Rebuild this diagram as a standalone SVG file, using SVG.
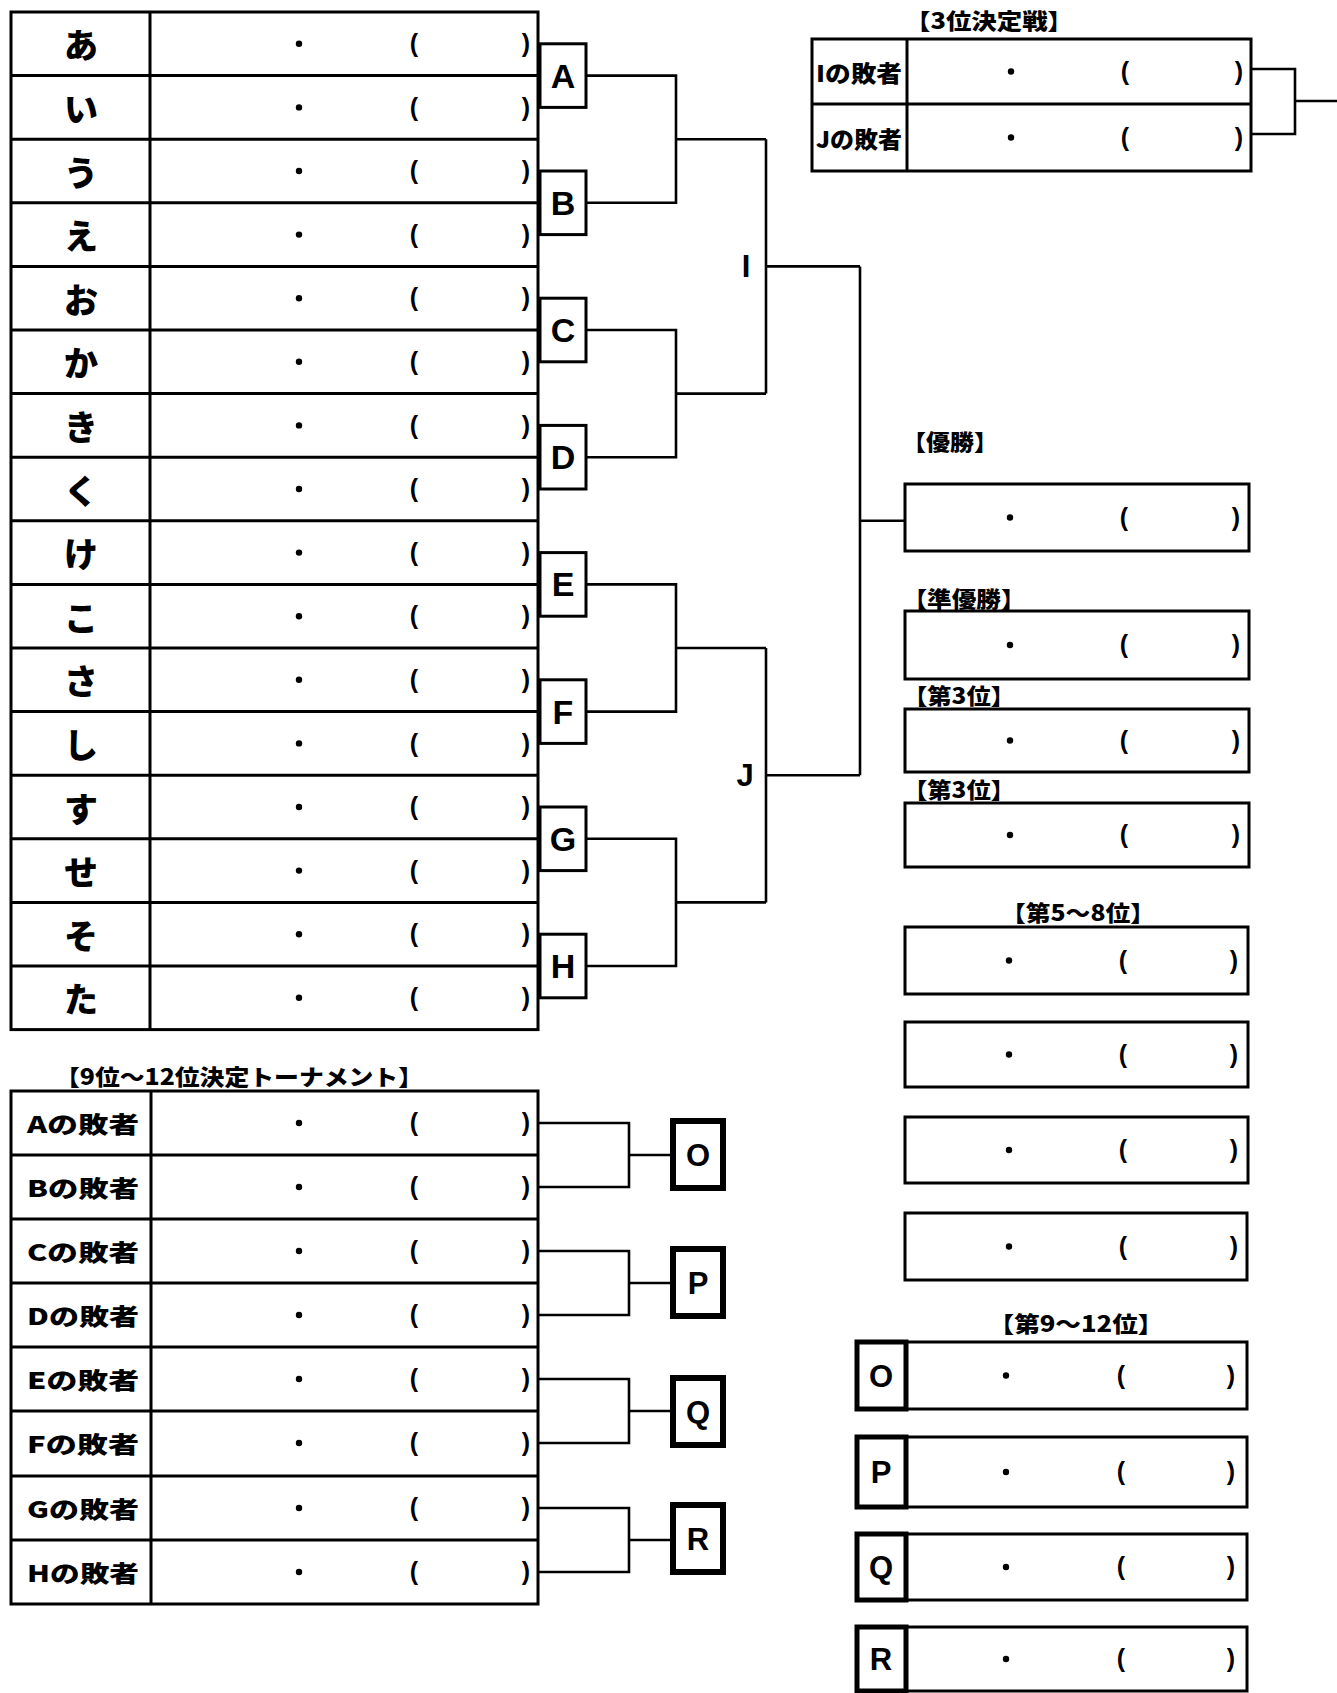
<svg xmlns="http://www.w3.org/2000/svg" width="1337" height="1693" viewBox="0 0 1337 1693">
<style>
.b{fill:#fff;stroke:#000;stroke-width:3}
.ln{stroke:#000;stroke-width:3;fill:none}
.cn{stroke:#000;stroke-width:2.6;fill:none}
.tk{fill:#fff;stroke:#000;stroke-width:6}
.tk2{fill:#fff;stroke:#000;stroke-width:5}
.h{font-family:"Noto Sans CJK JP","Noto Sans",sans-serif;font-weight:900;font-size:34px;text-anchor:middle;dominant-baseline:central}
.lb{font-family:"Noto Sans CJK JP","Noto Sans",sans-serif;font-weight:900;font-size:23px;text-anchor:middle;dominant-baseline:central}
.tt{font-family:"Noto Sans CJK JP","Noto Sans",sans-serif;font-weight:900;font-size:22px;text-anchor:middle}
.L{font-family:"Liberation Sans",Arial,sans-serif;font-weight:bold;font-size:34px;text-anchor:middle}
.L2{font-family:"Liberation Sans",Arial,sans-serif;font-weight:bold;font-size:31px;text-anchor:middle}
.p{font-family:"Liberation Sans",Arial,sans-serif;font-weight:bold;font-size:25px;text-anchor:middle}
</style>
<defs>
<g id="fill1"><circle cx="0" cy="0" r="3.2" fill="#000"/></g>
</defs>
<rect x="0" y="0" width="1337" height="1693" fill="#fff"/>

<!-- main table frame -->
<g id="main-table">
<rect class="b" x="11" y="12" width="527" height="1017.6"/>
<line class="ln" x1="150" y1="12" x2="150" y2="1029.6"/>
<path class="ln" d="M11 75.6H538M11 139.2H538M11 202.8H538M11 266.4H538M11 330H538M11 393.6H538M11 457.2H538M11 520.8H538M11 584.4H538M11 648H538M11 711.6H538M11 775.2H538M11 838.8H538M11 902.4H538M11 966H538"/>
</g>

<g id="row-a"><text class="h" x="81" y="43.8">あ</text><use href="#fill1" x="299" y="43.8"/><text class="p" x="414" y="52">(</text><text class="p" x="526" y="52">)</text></g>
<g id="row-i"><text class="h" x="81" y="107.4">い</text><use href="#fill1" x="299" y="107.4"/><text class="p" x="414" y="115.6">(</text><text class="p" x="526" y="115.6">)</text></g>
<g id="row-u"><text class="h" x="81" y="171">う</text><use href="#fill1" x="299" y="171"/><text class="p" x="414" y="179.2">(</text><text class="p" x="526" y="179.2">)</text></g>
<g id="row-e"><text class="h" x="81" y="234.6">え</text><use href="#fill1" x="299" y="234.6"/><text class="p" x="414" y="242.8">(</text><text class="p" x="526" y="242.8">)</text></g>
<g id="row-o"><text class="h" x="81" y="298.2">お</text><use href="#fill1" x="299" y="298.2"/><text class="p" x="414" y="306.4">(</text><text class="p" x="526" y="306.4">)</text></g>
<g id="row-ka"><text class="h" x="81" y="361.8">か</text><use href="#fill1" x="299" y="361.8"/><text class="p" x="414" y="370">(</text><text class="p" x="526" y="370">)</text></g>
<g id="row-ki"><text class="h" x="81" y="425.4">き</text><use href="#fill1" x="299" y="425.4"/><text class="p" x="414" y="433.6">(</text><text class="p" x="526" y="433.6">)</text></g>
<g id="row-ku"><text class="h" x="81" y="489">く</text><use href="#fill1" x="299" y="489"/><text class="p" x="414" y="497.2">(</text><text class="p" x="526" y="497.2">)</text></g>
<g id="row-ke"><text class="h" x="81" y="552.6">け</text><use href="#fill1" x="299" y="552.6"/><text class="p" x="414" y="560.8">(</text><text class="p" x="526" y="560.8">)</text></g>
<g id="row-ko"><text class="h" x="81" y="616.2">こ</text><use href="#fill1" x="299" y="616.2"/><text class="p" x="414" y="624.4">(</text><text class="p" x="526" y="624.4">)</text></g>
<g id="row-sa"><text class="h" x="81" y="679.8">さ</text><use href="#fill1" x="299" y="679.8"/><text class="p" x="414" y="688">(</text><text class="p" x="526" y="688">)</text></g>
<g id="row-shi"><text class="h" x="81" y="743.4">し</text><use href="#fill1" x="299" y="743.4"/><text class="p" x="414" y="751.6">(</text><text class="p" x="526" y="751.6">)</text></g>
<g id="row-su"><text class="h" x="81" y="807">す</text><use href="#fill1" x="299" y="807"/><text class="p" x="414" y="815.2">(</text><text class="p" x="526" y="815.2">)</text></g>
<g id="row-se"><text class="h" x="81" y="870.6">せ</text><use href="#fill1" x="299" y="870.6"/><text class="p" x="414" y="878.8">(</text><text class="p" x="526" y="878.8">)</text></g>
<g id="row-so"><text class="h" x="81" y="934.2">そ</text><use href="#fill1" x="299" y="934.2"/><text class="p" x="414" y="942.4">(</text><text class="p" x="526" y="942.4">)</text></g>
<g id="row-ta"><text class="h" x="81" y="997.8">た</text><use href="#fill1" x="299" y="997.8"/><text class="p" x="414" y="1006">(</text><text class="p" x="526" y="1006">)</text></g>

<!-- connectors -->
<g id="connectors">
<path class="cn" d="M586 75.6H676V202.8H586M676 139.2H766"/>
<path class="cn" d="M586 330H676V457.2H586M676 393.6H766"/>
<path class="cn" d="M586 584.4H676V711.6H586M676 648H766"/>
<path class="cn" d="M586 838.8H676V966H586M676 902.4H766"/>
<path class="cn" d="M766 139.2V393.6M766 266.4H860"/>
<path class="cn" d="M766 648V902.4M766 775.2H860"/>
<path class="cn" d="M860 266.4V775.2M860 520.8H905"/>
<path class="cn" d="M1251 69H1295V134H1251M1295 101H1337"/>
<path class="cn" d="M538 1123H629V1187H538M629 1155H672"/>
<path class="cn" d="M538 1251H629V1315H538M629 1283H672"/>
<path class="cn" d="M538 1379H629V1443H538M629 1411H672"/>
<path class="cn" d="M538 1508H629V1572H538M629 1540H672"/>
</g>

<!-- match boxes A-H -->
<g id="box-A"><rect class="b" x="540" y="43.8" width="46" height="63.6"/><text class="L" x="563" y="87.6">A</text></g>
<g id="box-B"><rect class="b" x="540" y="171" width="46" height="63.6"/><text class="L" x="563" y="214.8">B</text></g>
<g id="box-C"><rect class="b" x="540" y="298.2" width="46" height="63.6"/><text class="L" x="563" y="342">C</text></g>
<g id="box-D"><rect class="b" x="540" y="425.4" width="46" height="63.6"/><text class="L" x="563" y="469.2">D</text></g>
<g id="box-E"><rect class="b" x="540" y="552.6" width="46" height="63.6"/><text class="L" x="563" y="596.4">E</text></g>
<g id="box-F"><rect class="b" x="540" y="679.8" width="46" height="63.6"/><text class="L" x="563" y="723.6">F</text></g>
<g id="box-G"><rect class="b" x="540" y="807" width="46" height="63.6"/><text class="L" x="563" y="850.8">G</text></g>
<g id="box-H"><rect class="b" x="540" y="934.2" width="46" height="63.6"/><text class="L" x="563" y="978">H</text></g>

<g id="label-I"><text class="L2" x="746" y="277">I</text></g>
<g id="label-J"><text class="L2" x="745" y="786">J</text></g>

<!-- 3rd place playoff -->
<g id="third-playoff">
<text class="tt" x="989" y="29" textLength="168" lengthAdjust="spacingAndGlyphs">【3位決定戦】</text>
<rect class="b" x="812" y="39" width="439" height="132"/>
<line class="ln" x1="812" y1="104" x2="1251" y2="104"/>
<text class="lb" x="859" y="71.5" textLength="86" lengthAdjust="spacingAndGlyphs">Iの敗者</text>
<text class="lb" x="859" y="137.5" textLength="86" lengthAdjust="spacingAndGlyphs">Jの敗者</text>
<line class="ln" x1="907" y1="39" x2="907" y2="171"/>
<use href="#fill1" x="1011" y="71.5"/><text class="p" x="1125" y="79.7">(</text><text class="p" x="1239" y="79.7">)</text>
<use href="#fill1" x="1011" y="137.5"/><text class="p" x="1125" y="145.7">(</text><text class="p" x="1239" y="145.7">)</text>
</g>

<!-- results -->
<g id="champion">
<text class="tt" x="950" y="450" textLength="96" lengthAdjust="spacingAndGlyphs">【優勝】</text>
<rect class="b" x="905" y="484" width="344" height="67"/>
<use href="#fill1" x="1010" y="517.5"/><text class="p" x="1124" y="525.7">(</text><text class="p" x="1236" y="525.7">)</text>
</g>
<g id="runner-up">
<text class="tt" x="964" y="607" textLength="123" lengthAdjust="spacingAndGlyphs">【準優勝】</text>
<rect class="b" x="905" y="611" width="344" height="68"/>
<use href="#fill1" x="1010" y="645"/><text class="p" x="1124" y="653.2">(</text><text class="p" x="1236" y="653.2">)</text>
</g>
<g id="third-1">
<text class="tt" x="959" y="704" textLength="112" lengthAdjust="spacingAndGlyphs">【第3位】</text>
<rect class="b" x="905" y="709" width="344" height="63"/>
<use href="#fill1" x="1010" y="740.5"/><text class="p" x="1124" y="748.7">(</text><text class="p" x="1236" y="748.7">)</text>
</g>
<g id="third-2">
<text class="tt" x="959" y="798" textLength="112" lengthAdjust="spacingAndGlyphs">【第3位】</text>
<rect class="b" x="905" y="803" width="344" height="64"/>
<use href="#fill1" x="1010" y="835"/><text class="p" x="1124" y="843.2">(</text><text class="p" x="1236" y="843.2">)</text>
</g>
<g id="place-5-8">
<text class="tt" x="1078" y="921" textLength="154" lengthAdjust="spacingAndGlyphs">【第5～8位】</text>
<rect class="b" x="905" y="927" width="343" height="67"/>
<use href="#fill1" x="1009" y="960.5"/><text class="p" x="1123" y="968.7">(</text><text class="p" x="1234" y="968.7">)</text>
<rect class="b" x="905" y="1022" width="343" height="65"/>
<use href="#fill1" x="1009" y="1054.5"/><text class="p" x="1123" y="1062.7">(</text><text class="p" x="1234" y="1062.7">)</text>
<rect class="b" x="905" y="1117" width="343" height="66"/>
<use href="#fill1" x="1009" y="1150"/><text class="p" x="1123" y="1158.2">(</text><text class="p" x="1234" y="1158.2">)</text>
<rect class="b" x="905" y="1213" width="342" height="67"/>
<use href="#fill1" x="1009" y="1246.5"/><text class="p" x="1123" y="1254.7">(</text><text class="p" x="1234" y="1254.7">)</text>
</g>
<g id="place-9-12">
<text class="tt" x="1076" y="1332" textLength="175" lengthAdjust="spacingAndGlyphs">【第9～12位】</text>
</g>
<g id="rank-O">
<rect class="b" x="906" y="1342" width="341" height="67"/>
<rect class="tk2" x="857" y="1342" width="49" height="67"/>
<text class="L2" x="881" y="1386.5">O</text>
<use href="#fill1" x="1006" y="1375.5"/><text class="p" x="1121" y="1383.7">(</text><text class="p" x="1231" y="1383.7">)</text>
</g>
<g id="rank-P">
<rect class="b" x="906" y="1437" width="341" height="70"/>
<rect class="tk2" x="857" y="1437" width="49" height="70"/>
<text class="L2" x="881" y="1483">P</text>
<use href="#fill1" x="1006" y="1472"/><text class="p" x="1121" y="1480.2">(</text><text class="p" x="1231" y="1480.2">)</text>
</g>
<g id="rank-Q">
<rect class="b" x="906" y="1534" width="341" height="66"/>
<rect class="tk2" x="857" y="1534" width="49" height="66"/>
<text class="L2" x="881" y="1578">Q</text>
<use href="#fill1" x="1006" y="1567"/><text class="p" x="1121" y="1575.2">(</text><text class="p" x="1231" y="1575.2">)</text>
</g>
<g id="rank-R">
<rect class="b" x="906" y="1627" width="341" height="64"/>
<rect class="tk2" x="857" y="1627" width="49" height="64"/>
<text class="L2" x="881" y="1670">R</text>
<use href="#fill1" x="1006" y="1659"/><text class="p" x="1121" y="1667.2">(</text><text class="p" x="1231" y="1667.2">)</text>
</g>

<!-- 9-12 tournament table -->
<g id="consolation-table">
<text class="tt" x="239" y="1085" textLength="368" lengthAdjust="spacingAndGlyphs">【9位～12位決定トーナメント】</text>
<rect class="b" x="11" y="1091" width="527" height="513"/>
<line class="ln" x1="151" y1="1091" x2="151" y2="1604"/>
<path class="ln" d="M11 1155H538M11 1219H538M11 1283H538M11 1347H538M11 1411H538M11 1476H538M11 1540H538"/>
</g>
<g id="loser-A"><text class="lb" x="83" y="1123" textLength="112" lengthAdjust="spacingAndGlyphs">Aの敗者</text><use href="#fill1" x="299" y="1123"/><text class="p" x="414" y="1131.2">(</text><text class="p" x="526" y="1131.2">)</text></g>
<g id="loser-B"><text class="lb" x="83" y="1187" textLength="112" lengthAdjust="spacingAndGlyphs">Bの敗者</text><use href="#fill1" x="299" y="1187"/><text class="p" x="414" y="1195.2">(</text><text class="p" x="526" y="1195.2">)</text></g>
<g id="loser-C"><text class="lb" x="83" y="1251" textLength="112" lengthAdjust="spacingAndGlyphs">Cの敗者</text><use href="#fill1" x="299" y="1251"/><text class="p" x="414" y="1259.2">(</text><text class="p" x="526" y="1259.2">)</text></g>
<g id="loser-D"><text class="lb" x="83" y="1315" textLength="112" lengthAdjust="spacingAndGlyphs">Dの敗者</text><use href="#fill1" x="299" y="1315"/><text class="p" x="414" y="1323.2">(</text><text class="p" x="526" y="1323.2">)</text></g>
<g id="loser-E"><text class="lb" x="83" y="1379" textLength="112" lengthAdjust="spacingAndGlyphs">Eの敗者</text><use href="#fill1" x="299" y="1379"/><text class="p" x="414" y="1387.2">(</text><text class="p" x="526" y="1387.2">)</text></g>
<g id="loser-F"><text class="lb" x="83" y="1443" textLength="112" lengthAdjust="spacingAndGlyphs">Fの敗者</text><use href="#fill1" x="299" y="1443"/><text class="p" x="414" y="1451.2">(</text><text class="p" x="526" y="1451.2">)</text></g>
<g id="loser-G"><text class="lb" x="83" y="1508" textLength="112" lengthAdjust="spacingAndGlyphs">Gの敗者</text><use href="#fill1" x="299" y="1508"/><text class="p" x="414" y="1516.2">(</text><text class="p" x="526" y="1516.2">)</text></g>
<g id="loser-H"><text class="lb" x="83" y="1572" textLength="112" lengthAdjust="spacingAndGlyphs">Hの敗者</text><use href="#fill1" x="299" y="1572"/><text class="p" x="414" y="1580.2">(</text><text class="p" x="526" y="1580.2">)</text></g>

<g id="box-O"><rect class="tk" x="673" y="1121" width="50" height="67"/><text class="L2" x="698" y="1165.5">O</text></g>
<g id="box-P"><rect class="tk" x="673" y="1249" width="50" height="67"/><text class="L2" x="698" y="1293.5">P</text></g>
<g id="box-Q"><rect class="tk" x="673" y="1378" width="50" height="67"/><text class="L2" x="698" y="1422.5">Q</text></g>
<g id="box-R"><rect class="tk" x="673" y="1505" width="50" height="67"/><text class="L2" x="698" y="1549.5">R</text></g>
</svg>
